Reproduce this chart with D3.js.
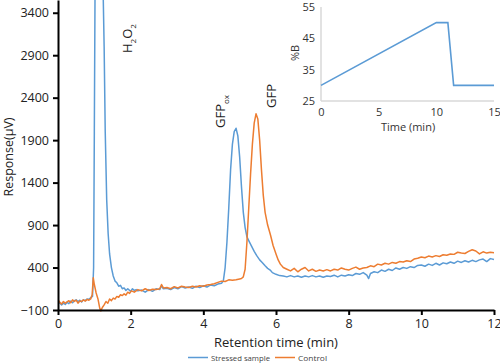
<!DOCTYPE html>
<html lang="en">
<head>
<meta charset="UTF-8">
<title>Chromatogram</title>
<script src="https://cdn.jsdelivr.net/npm/d3@7"></script>
<style>
    body { margin: 0; background: #fff; }
    text { font-family: "Open Sans", sans-serif; fill: #222; }
    .axis path, .axis line { stroke: #000; stroke-width: 2px; }
    .axis text { font-size: 12.5px; fill: #222; }
    .inset path.domain { stroke: #d9d9d9; stroke-width: 1.5px; }
    .inset text { font-size: 11px; fill: #333; }
</style>
</head>
<body>
<svg id="chart" width="500" height="364"></svg>
<script>
// retention time (min) and response (µV)
var stressedTime = [0,0.05,0.1,0.15,0.2,0.25,0.3,0.35,0.4,0.45,0.5,0.55,0.6,0.65,0.7,0.75,0.8,0.85,0.9,0.95,0.98,1.0,1.02,1.1,1.24,1.27,1.3,1.34,1.38,1.42,1.47,1.52,1.57,1.62,1.67,1.72,1.77,1.82,1.87,1.92,2.0,2.05,2.1,2.15,2.2,2.3,2.4,2.5,2.6,2.7,2.8,2.85,2.9,3.0,3.1,3.2,3.3,3.4,3.5,3.6,3.7,3.8,3.9,4.0,4.1,4.2,4.3,4.4,4.5,4.55,4.6,4.65,4.7,4.75,4.8,4.85,4.9,4.95,5.0,5.05,5.1,5.15,5.2,5.27,5.33,5.4,5.47,5.55,5.62,5.7,5.77,5.84,5.9,6.0,6.1,6.2,6.3,6.4,6.5,6.6,6.7,6.8,6.9,7.0,7.1,7.2,7.3,7.4,7.5,7.6,7.7,7.8,7.9,8.0,8.1,8.2,8.3,8.4,8.5,8.55,8.6,8.7,8.8,8.9,9.0,9.1,9.2,9.3,9.4,9.5,9.6,9.7,9.8,9.9,10.0,10.1,10.2,10.3,10.4,10.5,10.6,10.7,10.8,10.9,11.0,11.1,11.2,11.3,11.4,11.5,11.6,11.7,11.8,11.9,12.0];
var stressedValue = [10,-20,-40,-20,-35,-10,-25,5,-15,10,20,0,15,-5,20,10,30,25,45,60,400,2000,3700,6000,3700,3000,2000,1200,800,560,400,300,240,220,180,190,150,160,130,150,120,150,130,140,125,135,110,140,120,150,140,185,150,155,140,165,150,175,160,170,155,180,165,185,170,195,185,205,215,240,400,700,1100,1550,1850,2000,2040,1950,1700,1350,1050,870,760,700,650,590,540,490,460,420,390,370,340,320,305,300,290,305,290,300,285,300,290,305,290,300,285,300,295,310,290,310,300,315,305,330,320,340,310,270,330,350,340,370,355,380,365,395,380,400,390,410,400,425,430,415,440,425,450,430,455,445,465,450,475,460,480,465,485,470,490,500,470,505,495];

var controlTime = [0,0.05,0.1,0.15,0.2,0.25,0.3,0.35,0.4,0.45,0.5,0.55,0.6,0.65,0.7,0.75,0.8,0.85,0.9,0.94,0.97,1.0,1.05,1.1,1.15,1.18,1.22,1.27,1.32,1.37,1.42,1.47,1.52,1.57,1.62,1.67,1.72,1.77,1.82,1.87,1.92,1.97,2.02,2.1,2.2,2.3,2.4,2.5,2.6,2.7,2.8,2.85,2.9,3.0,3.1,3.2,3.3,3.4,3.5,3.6,3.7,3.8,3.9,4.0,4.1,4.2,4.3,4.4,4.5,4.6,4.7,4.8,4.9,5.0,5.05,5.1,5.15,5.2,5.25,5.3,5.35,5.4,5.45,5.5,5.55,5.6,5.65,5.7,5.77,5.85,5.92,6.0,6.06,6.12,6.2,6.3,6.4,6.5,6.6,6.7,6.8,6.9,7.0,7.1,7.2,7.3,7.4,7.5,7.6,7.7,7.8,7.9,8.0,8.1,8.2,8.3,8.4,8.5,8.6,8.7,8.8,8.9,9.0,9.1,9.2,9.3,9.4,9.5,9.6,9.7,9.8,9.9,10.0,10.1,10.2,10.3,10.4,10.5,10.6,10.7,10.8,10.9,11.0,11.1,11.2,11.3,11.4,11.5,11.6,11.7,11.8,11.9,12.0];
var controlValue = [20,-10,-30,0,-20,-5,10,-15,20,0,15,-20,5,0,20,5,25,15,30,80,280,200,100,30,-80,-110,-70,-40,0,-20,30,10,40,30,60,50,80,70,90,75,110,95,125,110,140,125,150,130,145,140,150,200,160,165,150,175,160,180,170,165,180,170,185,180,195,200,210,225,240,235,255,250,255,265,270,290,380,700,1100,1500,1850,2100,2210,2150,1900,1550,1250,1050,900,780,660,560,490,440,400,380,360,390,350,380,400,360,380,355,370,360,375,360,380,370,395,380,370,390,405,380,395,400,420,410,440,430,450,440,460,450,470,465,480,470,500,510,525,515,535,525,540,530,550,545,560,555,580,570,565,590,610,595,560,585,570,580,575];

var xTicks = [0, 2, 4, 6, 8, 10, 12];
var yTicks = [-100, 400, 900, 1400, 1900, 2400, 2900, 3400];

// gradient program (inset)
var gradTime = [0, 10, 11, 11.5, 15];
var gradB = [30, 50, 50, 30, 30];
var gradXTicks = [0, 5, 10, 15];
var gradYTicks = [25, 35, 45, 55];

var seriesNames = ['Stressed sample', 'Control'];
var colors = ['#5b9bd5', '#ed7d31'];

var svg = d3.select('#chart');

var x = d3.scaleLinear().domain([0, 12]).range([58, 494]);
var y = d3.scaleLinear().domain([-100, 3550]).range([310, 0]);

svg.append('clipPath').attr('id', 'plotclip')
    .append('rect').attr('x', 58).attr('y', 0).attr('width', 440).attr('height', 312);

var line = d3.line()
    .x(d => x(d[0]))
    .y(d => y(d[1]));

var series = [
    d3.zip(stressedTime, stressedValue),
    d3.zip(controlTime, controlValue)
];

// inset first (sits under the traces)
var ix = d3.scaleLinear().domain([0, 15]).range([321, 494]);
var iy = d3.scaleLinear().domain([25, 55]).range([101, 7]);

var inset = svg.append('g').attr('class', 'inset');
inset.append('g')
    .attr('transform', 'translate(0,101)')
    .call(d3.axisBottom(ix).tickValues(gradXTicks).tickSize(0).tickPadding(7))
    .call(g => g.select('.domain').attr('d', 'M321,0H494'));
inset.append('g')
    .attr('transform', 'translate(321,0)')
    .call(d3.axisLeft(iy).tickValues(gradYTicks).tickSize(0).tickPadding(6))
    .call(g => g.select('.domain').attr('d', 'M0,7V101'));
inset.append('path')
    .attr('d', d3.line().x(d => ix(d[0])).y(d => iy(d[1]))(d3.zip(gradTime, gradB)))
    .attr('fill', 'none')
    .attr('stroke', colors[0])
    .attr('stroke-width', 1.6);
inset.append('text')
    .attr('x', 408).attr('y', 131)
    .attr('text-anchor', 'middle')
    .style('font-size', '11px')
    .text('Time (min)');
inset.append('text')
    .attr('transform', 'translate(299,53) rotate(-90)')
    .attr('text-anchor', 'middle')
    .style('font-size', '11px')
    .text('%B');

// traces
svg.append('g').attr('clip-path', 'url(#plotclip)')
    .selectAll('path')
    .data(series)
    .enter()
    .append('path')
    .attr('d', line)
    .attr('fill', 'none')
    .attr('stroke', (d, i) => colors[i])
    .attr('stroke-width', 1.5)
    .attr('stroke-linejoin', 'round');

// axes
svg.append('g')
    .attr('class', 'axis')
    .attr('transform', 'translate(0,310)')
    .call(d3.axisBottom(x).tickValues(xTicks).tickSize(5).tickSizeOuter(0).tickPadding(4));

svg.append('g')
    .attr('class', 'axis')
    .attr('transform', 'translate(58,0)')
    .call(d3.axisLeft(y).tickValues(yTicks).tickFormat(d3.format('d')).tickSize(5).tickSizeOuter(0).tickPadding(4));

// axis titles
svg.append('text')
    .attr('x', 276).attr('y', 347)
    .attr('text-anchor', 'middle')
    .style('font-size', '13px')
    .text('Retention time (min)');
svg.append('text')
    .attr('transform', 'translate(13,157) rotate(-90)')
    .attr('text-anchor', 'middle')
    .style('font-size', '12.5px')
    .text('Response(µV)');

// peak labels
var h2o2 = svg.append('text')
    .attr('transform', 'translate(132,53) rotate(-90)')
    .style('font-size', '13px');
h2o2.append('tspan').text('H');
h2o2.append('tspan').attr('dy', 4).style('font-size', '8px').text('2');
h2o2.append('tspan').attr('dy', -4).text('O');
h2o2.append('tspan').attr('dy', 4).style('font-size', '8px').text('2');

var gfpox = svg.append('text')
    .attr('transform', 'translate(225,128) rotate(-90)')
    .style('font-size', '13px');
gfpox.append('tspan').text('GFP');
gfpox.append('tspan').attr('dy', 4).style('font-size', '8px').text('ox');

svg.append('text')
    .attr('transform', 'translate(276,108) rotate(-90)')
    .style('font-size', '13px')
    .text('GFP');

// legend
var legend = svg.append('g')
    .selectAll('g')
    .data(seriesNames)
    .enter()
    .append('g')
    .attr('transform', (d, i) => 'translate(' + [188, 275][i] + ',357.5)');
legend.append('line')
    .attr('x1', 0).attr('x2', 20)
    .attr('stroke', (d, i) => colors[i])
    .attr('stroke-width', 1.5);
legend.append('text')
    .attr('x', 23).attr('y', 3)
    .attr('textLength', (d, i) => [59, 29][i])
    .attr('lengthAdjust', 'spacingAndGlyphs')
    .style('font-size', '8px')
    .style('fill', '#444')
    .text(d => d);
</script>
</body>
</html>
